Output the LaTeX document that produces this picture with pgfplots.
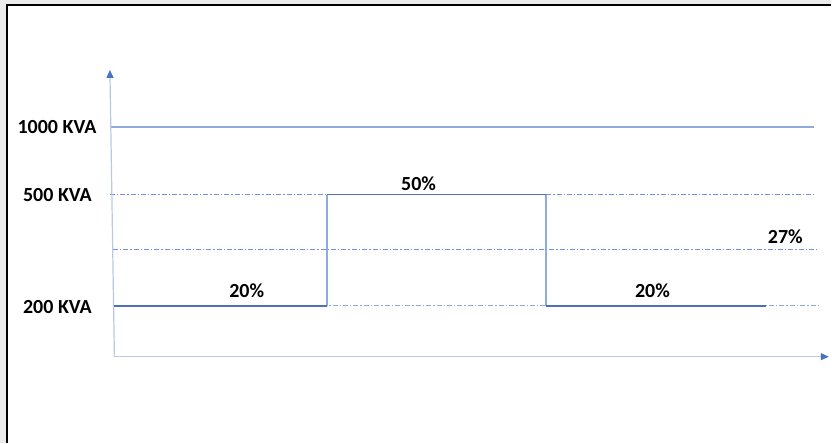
\documentclass[border=0pt]{standalone}
\usepackage{pgfplots}
\pgfplotsset{compat=1.18}
\usepackage{fontspec}
\setmainfont{Carlito}
\usetikzlibrary{arrows.meta}

\definecolor{axisblue}{HTML}{B8C8E6}
\definecolor{headblue}{HTML}{4A72C2}
\definecolor{lightblue}{HTML}{8FAADC}
\definecolor{stepblue}{HTML}{4F70B8}
\definecolor{gridblue}{HTML}{6F93E0}
\definecolor{panelgray}{HTML}{EBEBEB}

\tikzset{lbl/.style={font=\fontsize{10}{12}\selectfont\bfseries, text=black, inner sep=0pt}}

\begin{document}
\begin{tikzpicture}
\begin{axis}[
  width=416pt, height=221.5pt, scale only axis,
  xmin=-114.5, xmax=717.5, ymin=-86, ymax=357,
  axis lines=none, xtick=\empty, ytick=\empty,
  clip=false,
]
% page background and frame
\fill[white] (axis cs:-114.5,-86) rectangle (axis cs:717.5,357);
\fill[panelgray] (axis cs:-114.5,-86) rectangle (axis cs:-108,357);
\fill[panelgray] (axis cs:-114.5,352.5) rectangle (axis cs:717.5,357);
\draw[black, line width=0.75pt] (axis cs:-107.5,-86) -- (axis cs:-107.5,351.8) -- (axis cs:717.5,351.8);

% reference levels
\addplot[lightblue, line width=1pt] coordinates {(-4.5,230) (700.5,230)};
\addplot[draw=gridblue, line width=0.6pt, dash pattern=on 2.5pt off 1pt on 0.7pt off 1pt] coordinates {(-4.5,162) (701.5,162)};
\addplot[draw=gridblue, line width=0.6pt, dash pattern=on 2.5pt off 1pt on 0.7pt off 1pt] coordinates {(-1.5,107) (705.5,107)};
\addplot[draw=lightblue, line width=0.7pt, dash pattern=on 2.5pt off 1pt on 0.7pt off 1pt] coordinates {(0,51) (705.5,51)};

% axes with arrow heads
\addplot[axisblue, line width=0.6pt, -{Triangle[length=4pt,width=3.5pt,color=headblue]}] coordinates {(0,0) (-4.5,287)};
\addplot[axisblue, line width=0.6pt, -{Triangle[length=4pt,width=3.5pt,color=headblue]}] coordinates {(0,0) (715,0)};

% load profile
\addplot[lightblue, line width=1pt] coordinates {(212.5,51) (212.5,162)};
\addplot[lightblue, line width=1pt] coordinates {(432,162) (432,51)};
\addplot[stepblue, line width=1pt] coordinates {(0,51) (212.5,51)};
\addplot[stepblue, line width=0.6pt] coordinates {(212.5,162) (432,162)};
\addplot[stepblue, line width=1pt] coordinates {(432,51) (652,51)};

% level labels
\node[lbl] at (axis cs:-57.5,230) {1000 KVA};
\node[lbl] at (axis cs:-57,161.5) {500 KVA};
\node[lbl] at (axis cs:-57,50) {200 KVA};

% load percentages
\node[lbl] at (axis cs:132.5,66) {20\%};
\node[lbl] at (axis cs:304.5,173) {50\%};
\node[lbl] at (axis cs:538.5,66) {20\%};
\node[lbl] at (axis cs:671.5,120) {27\%};
\end{axis}
\end{tikzpicture}
\end{document}
